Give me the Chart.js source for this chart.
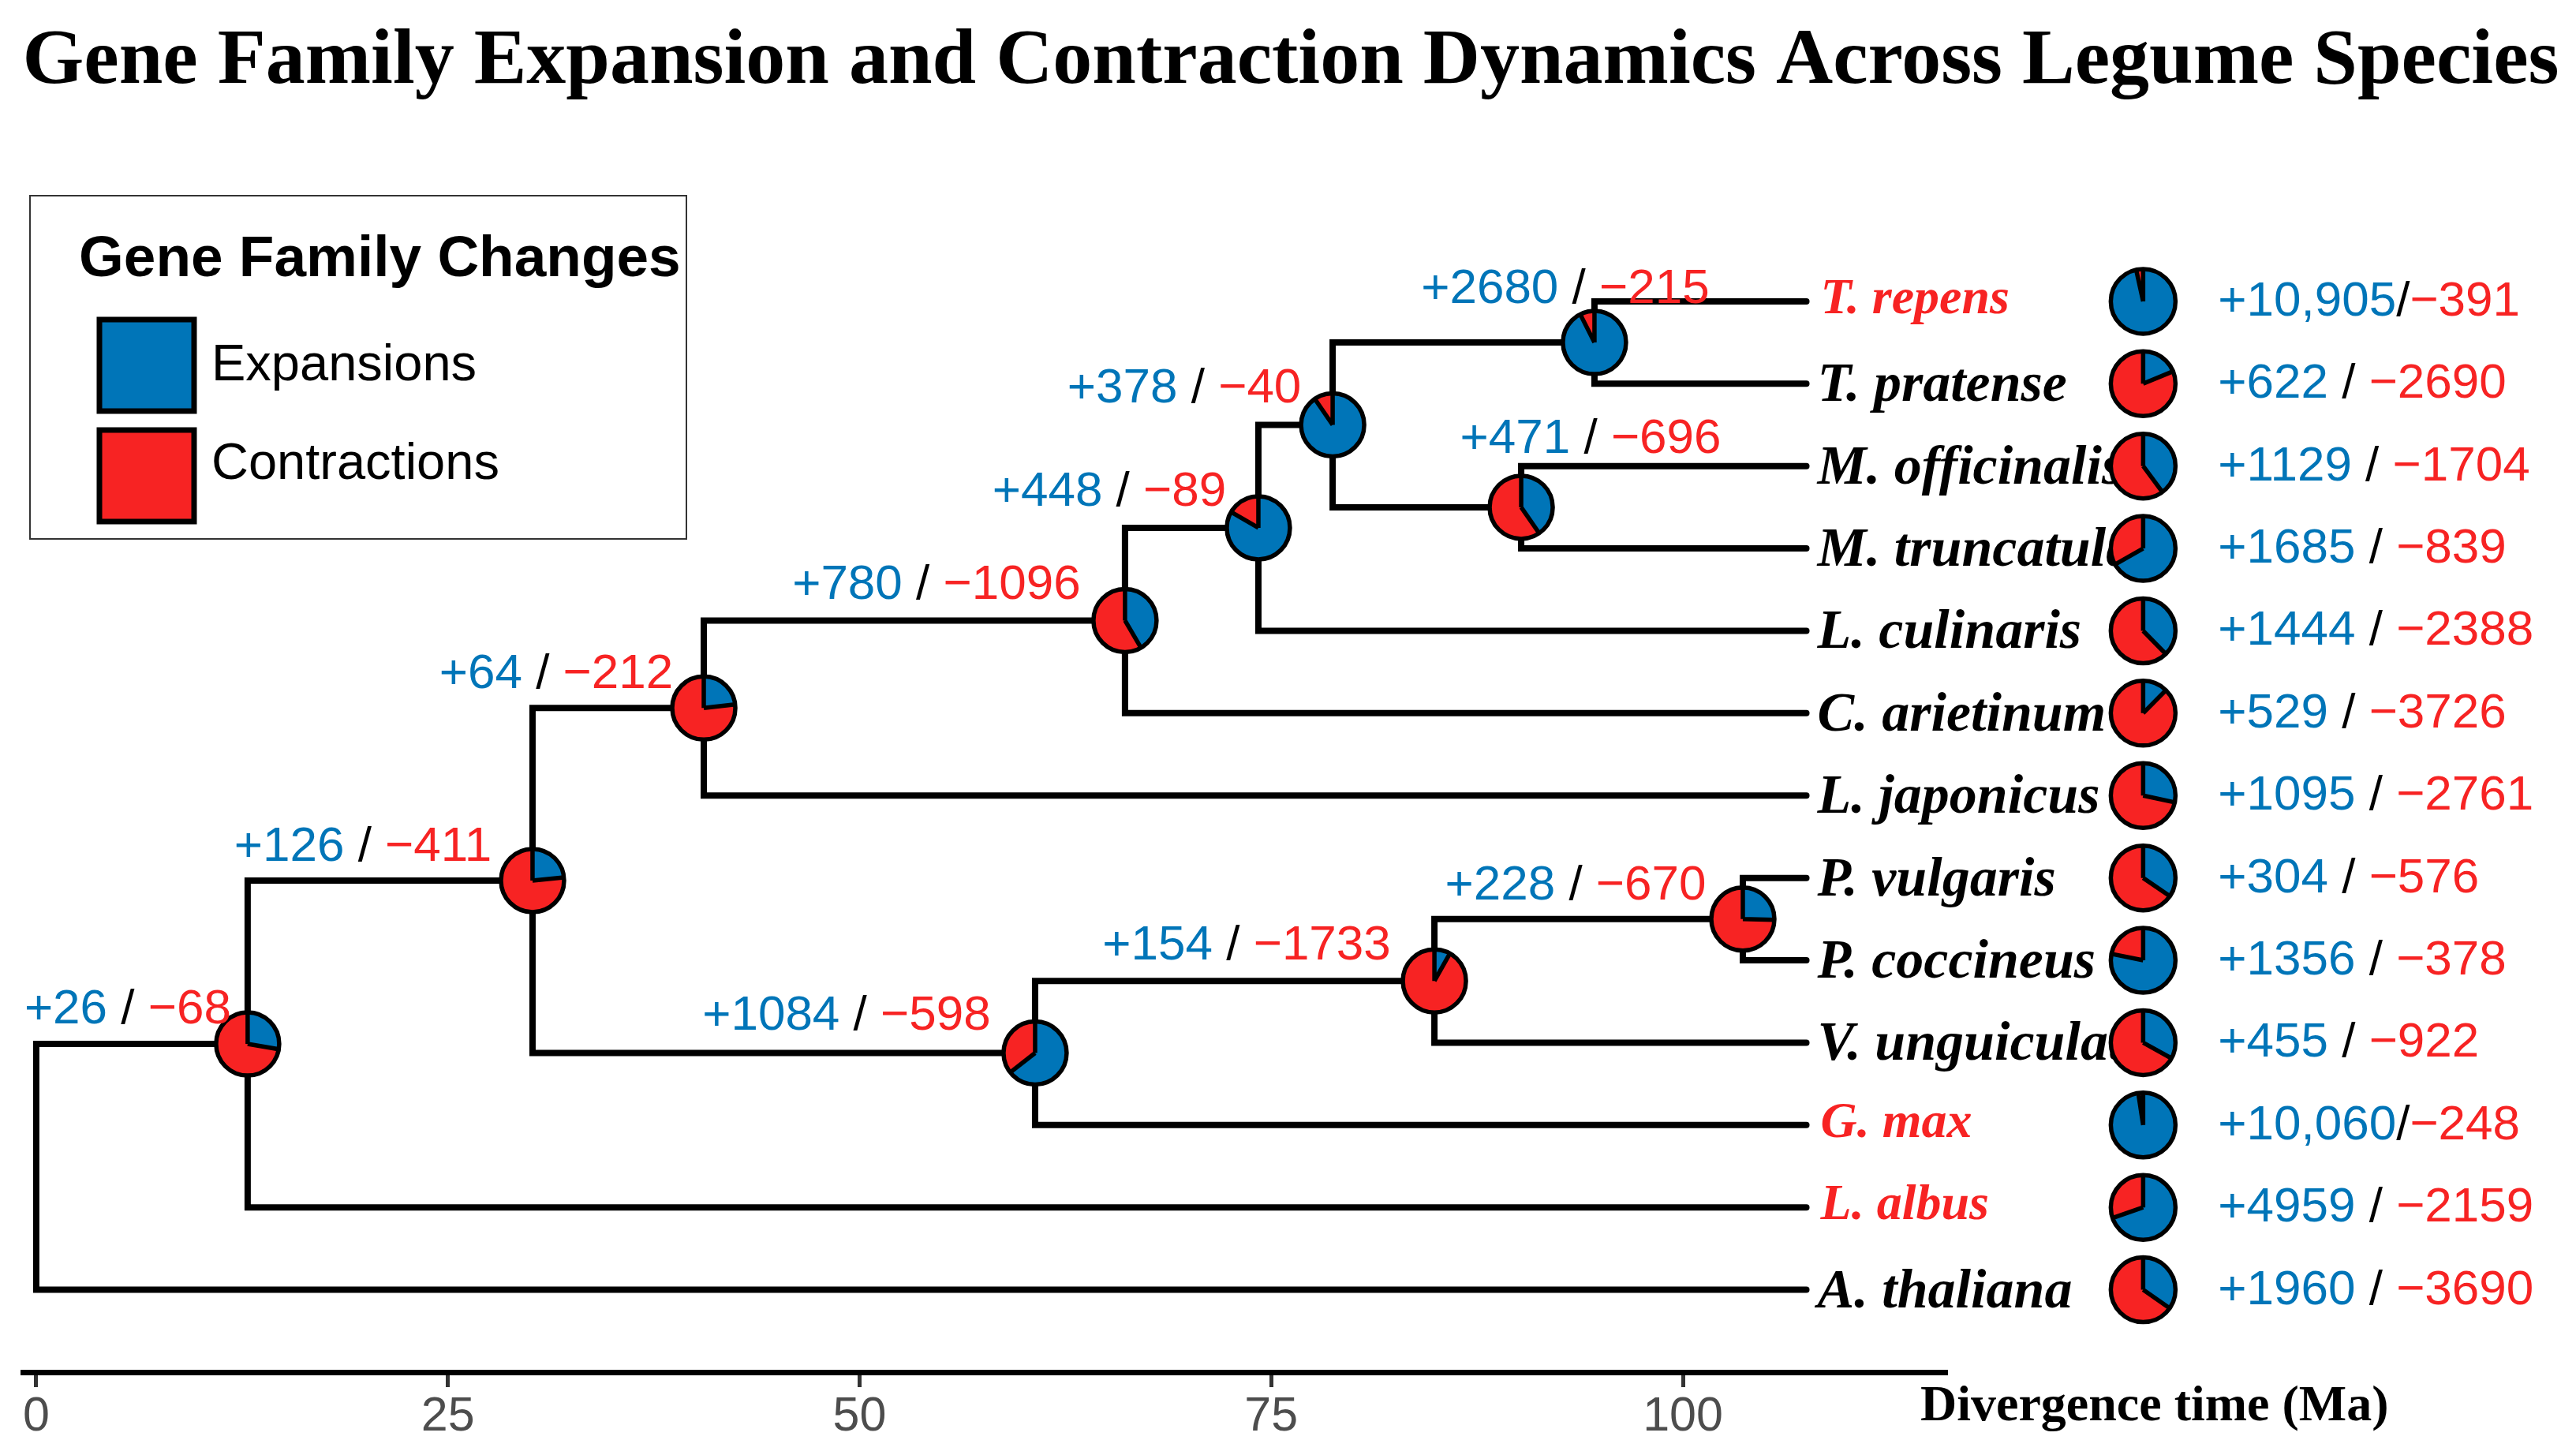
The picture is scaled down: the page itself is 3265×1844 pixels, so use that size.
<!DOCTYPE html>
<html>
<head>
<meta charset="utf-8">
<title>Gene Family Expansion and Contraction Dynamics Across Legume Species</title>
<script src="https://cdn.jsdelivr.net/npm/chart.js@4.4.1/dist/chart.umd.min.js"></script>
<style>
  html, body { margin: 0; padding: 0; background: #fff; overflow: hidden; }
  canvas { display: block; }
</style>
</head>
<body>
<canvas id="treeChart" width="3265" height="1844"></canvas>
<script>
// Tips, listed top to bottom as in the tree
const species = ['T. repens', 'T. pratense', 'M. officinalis', 'M. truncatula', 'L. culinaris',
                 'C. arietinum', 'L. japonicus', 'P. vulgaris', 'P. coccineus', 'V. unguiculata',
                 'G. max', 'L. albus', 'A. thaliana'];
const tipExpansions   = [10905, 622, 1129, 1685, 1444, 529, 1095, 304, 1356, 455, 10060, 4959, 1960];
const tipContractions = [391, 2690, 1704, 839, 2388, 3726, 2761, 576, 378, 922, 248, 2159, 3690];
const highlightedSpecies = ['T. repens', 'G. max', 'L. albus'];
const tipAge = 107.5;

// Internal nodes (ages in Ma on the plotted axis)
const nodeNames = ['Root', 'N1', 'N2', 'N3', 'N4', 'N5', 'N6', 'N7', 'N8', 'N9', 'N10', 'N11'];
const nodeAges  = [0, 12.84, 30.14, 40.54, 66.12, 74.22, 78.73, 94.63, 90.18, 60.66, 84.91, 103.64];
const nodeChildren = [
    ['N1', 'A. thaliana'], ['N2', 'L. albus'], ['N3', 'N9'], ['N4', 'L. japonicus'],
    ['N5', 'C. arietinum'], ['N6', 'L. culinaris'], ['N7', 'N8'], ['T. repens', 'T. pratense'],
    ['M. officinalis', 'M. truncatula'], ['N10', 'G. max'], ['N11', 'V. unguiculata'],
    ['P. vulgaris', 'P. coccineus']
];
const nodeExpansions   = [null, 26, 126, 64, 780, 448, 378, 2680, 471, 1084, 154, 228];
const nodeContractions = [null, 68, 411, 212, 1096, 89, 40, 215, 696, 598, 1733, 670];

const timeTicks = [0, 25, 50, 75, 100];

// Layout only: label nudges (px) for the node count labels, relative to the pie centre
const labelNudgeX = [0, -152, -215, -187, -239, -189, -188, -37, 88, -239, -238, -212];
const labelNudgeY = [0, -26, -25, -25, -27, -28, -28, -50, -69, -29, -27, -25];
const pieColumnAge = 127.95;
const statColumnAge = 132.5;

const BLUE = '#0075B8';
const RED = '#F72323';
const SANS = "'Liberation Sans', Arial, sans-serif";
const SERIF = "'Liberation Serif', 'Times New Roman', serif";

// Tree geometry (rectangular, ggtree-like: parent y = mean of children)
function isTip(name) { return species.indexOf(name) >= 0; }
function ageOf(name) { return isTip(name) ? tipAge : nodeAges[nodeNames.indexOf(name)]; }
function rowOf(name) {
    if (isTip(name)) return species.length - species.indexOf(name);
    const kids = nodeChildren[nodeNames.indexOf(name)];
    return (rowOf(kids[0]) + rowOf(kids[1])) / 2;
}

const branchDatasets = nodeNames.map((name, i) => {
    const [a, b] = nodeChildren[i];
    return {
        label: 'branch ' + name,
        data: [
            { x: ageOf(a), y: rowOf(a) },
            { x: nodeAges[i], y: rowOf(a) },
            { x: nodeAges[i], y: rowOf(b) },
            { x: ageOf(b), y: rowOf(b) }
        ],
        showLine: true,
        borderColor: '#000',
        borderWidth: 8,
        borderCapStyle: 'round',
        borderJoinStyle: 'miter',
        pointRadius: 0,
        tension: 0,
        fill: false,
        clip: false
    };
});

const pieNodeIdx = nodeNames.map((n, i) => i).filter(i => nodeExpansions[i] !== null);
const nodePieDataset = {
    label: 'node pies',
    data: pieNodeIdx.map(i => ({ x: nodeAges[i], y: rowOf(nodeNames[i]) })),
    pointRadius: 0,
    showLine: false
};
const tipPieDataset = {
    label: 'tip pies',
    data: species.map(s => ({ x: pieColumnAge, y: rowOf(s) })),
    pointRadius: 0,
    showLine: false,
    clip: false
};

function formatPair(gain, loss) {
    if (gain >= 10000) return ['+' + gain.toLocaleString('en-US'), '/', '\u2212' + loss];
    return ['+' + gain, ' / ', '\u2212' + loss];
}

function drawPair(ctx, parts, x, y, centred) {
    const colors = [BLUE, '#000', RED];
    ctx.save();
    ctx.font = '62px ' + SANS;
    ctx.textAlign = 'left';
    ctx.textBaseline = 'alphabetic';
    const widths = parts.map(p => ctx.measureText(p).width);
    const total = widths.reduce((a, b) => a + b, 0);
    let cx = centred ? x - total / 2 : x;
    parts.forEach((p, k) => {
        ctx.fillStyle = colors[k];
        ctx.fillText(p, cx, y);
        cx += widths[k];
    });
    ctx.restore();
}

function drawPie(ctx, x, y, r, gain, loss) {
    const start = -Math.PI / 2;
    const split = start + 2 * Math.PI * gain / (gain + loss);
    ctx.save();
    ctx.lineWidth = 5.5;
    ctx.strokeStyle = '#000';
    ctx.lineJoin = 'round';
    ctx.beginPath();
    ctx.moveTo(x, y);
    ctx.arc(x, y, r, start, split);
    ctx.closePath();
    ctx.fillStyle = BLUE;
    ctx.fill();
    ctx.beginPath();
    ctx.moveTo(x, y);
    ctx.arc(x, y, r, split, start + 2 * Math.PI);
    ctx.closePath();
    ctx.fillStyle = RED;
    ctx.fill();
    // radial separators and rim
    ctx.beginPath();
    ctx.moveTo(x, y);
    ctx.lineTo(x + r * Math.cos(start), y + r * Math.sin(start));
    ctx.moveTo(x, y);
    ctx.lineTo(x + r * Math.cos(split), y + r * Math.sin(split));
    ctx.stroke();
    ctx.beginPath();
    ctx.arc(x, y, r, 0, 2 * Math.PI);
    ctx.stroke();
    ctx.restore();
}

const treeDecor = {
    id: 'treeDecor',
    afterDatasetsDraw(chart) {
        const ctx = chart.ctx;
        const nDs = branchDatasets.length;
        const nodeMeta = chart.getDatasetMeta(nDs);
        const tipMeta = chart.getDatasetMeta(nDs + 1);

        // node pies and their counts
        nodeMeta.data.forEach((pt, k) => {
            const i = pieNodeIdx[k];
            drawPie(ctx, pt.x, pt.y, 40, nodeExpansions[i], nodeContractions[i]);
        });
        nodeMeta.data.forEach((pt, k) => {
            const i = pieNodeIdx[k];
            drawPair(ctx, formatPair(nodeExpansions[i], nodeContractions[i]),
                     pt.x + labelNudgeX[i], pt.y + labelNudgeY[i], true);
        });

        // tip labels, pies and counts
        const xs = chart.scales.x;
        const tipX = xs.getPixelForValue(tipAge);
        const statX = xs.getPixelForValue(statColumnAge);
        tipMeta.data.forEach((pt, k) => {
            const name = species[k];
            const red = highlightedSpecies.indexOf(name) >= 0;
            ctx.save();
            ctx.textAlign = 'left';
            ctx.textBaseline = 'alphabetic';
            ctx.fillStyle = red ? RED : '#000';
            ctx.font = red ? 'italic bold 64px ' + SERIF : 'italic bold 70px ' + SERIF;
            ctx.fillText(name, tipX + (red ? 18 : 14), pt.y + (red ? 15 : 22));
            ctx.restore();
        });
        tipMeta.data.forEach((pt, k) => {
            drawPie(ctx, pt.x, pt.y, 41, tipExpansions[k], tipContractions[k]);
            drawPair(ctx, formatPair(tipExpansions[k], tipContractions[k]), statX, pt.y + 18, false);
        });
    },
    afterDraw(chart) {
        const ctx = chart.ctx;
        ctx.save();
        // main title
        ctx.fillStyle = '#000';
        ctx.textAlign = 'center';
        ctx.textBaseline = 'alphabetic';
        ctx.font = 'bold 100px ' + SERIF;
        ctx.fillText('Gene Family Expansion and Contraction Dynamics Across Legume Species', 1636, 105);

        // axis title, right of the axis line
        ctx.textAlign = 'left';
        ctx.font = 'bold 64px ' + SERIF;
        ctx.fillText('Divergence time (Ma)', 2434, 1800);

        // legend
        ctx.lineWidth = 2;
        ctx.strokeStyle = '#333';
        ctx.strokeRect(38, 248, 832, 435);
        ctx.font = 'bold 73px ' + SANS;
        ctx.fillText('Gene Family Changes', 100, 350);
        const items = [['Expansions', BLUE, 405, 482], ['Contractions', RED, 545, 607]];
        items.forEach(([text, color, top, base]) => {
            ctx.fillStyle = color;
            ctx.fillRect(126, top, 120, 116);
            ctx.lineWidth = 7;
            ctx.strokeStyle = '#000';
            ctx.strokeRect(126, top, 120, 116);
            ctx.fillStyle = '#000';
            ctx.font = '65px ' + SANS;
            ctx.fillText(text, 268, base);
        });
        ctx.restore();
    }
};

new Chart(document.getElementById('treeChart'), {
    type: 'scatter',
    data: { datasets: [...branchDatasets, nodePieDataset, tipPieDataset] },
    plugins: [treeDecor],
    options: {
        responsive: false,
        devicePixelRatio: 1,
        animation: false,
        events: [],
        layout: { padding: { left: 29, right: 797, top: 277.5, bottom: 0 } },
        plugins: {
            legend: { display: false },
            tooltip: { enabled: false },
            title: { display: false }
        },
        scales: {
            x: {
                type: 'linear',
                position: 'bottom',
                min: -0.81,
                max: 116.05,
                afterBuildTicks: scale => { scale.ticks = timeTicks.map(v => ({ value: v })); },
                afterFit: scale => { scale.height = 105; },
                grid: {
                    display: true,
                    drawOnChartArea: false,
                    drawTicks: true,
                    tickLength: 19,
                    tickColor: '#333',
                    tickWidth: 5
                },
                border: { display: true, color: '#000', width: 7 },
                ticks: {
                    autoSkip: false,
                    maxRotation: 0,
                    minRotation: 0,
                    padding: 2,
                    color: '#4D4D4D',
                    font: { family: SANS, size: 61 }
                }
            },
            y: {
                type: 'linear',
                min: 0,
                max: 14,
                display: false
            }
        }
    }
});
</script>
</body>
</html>
